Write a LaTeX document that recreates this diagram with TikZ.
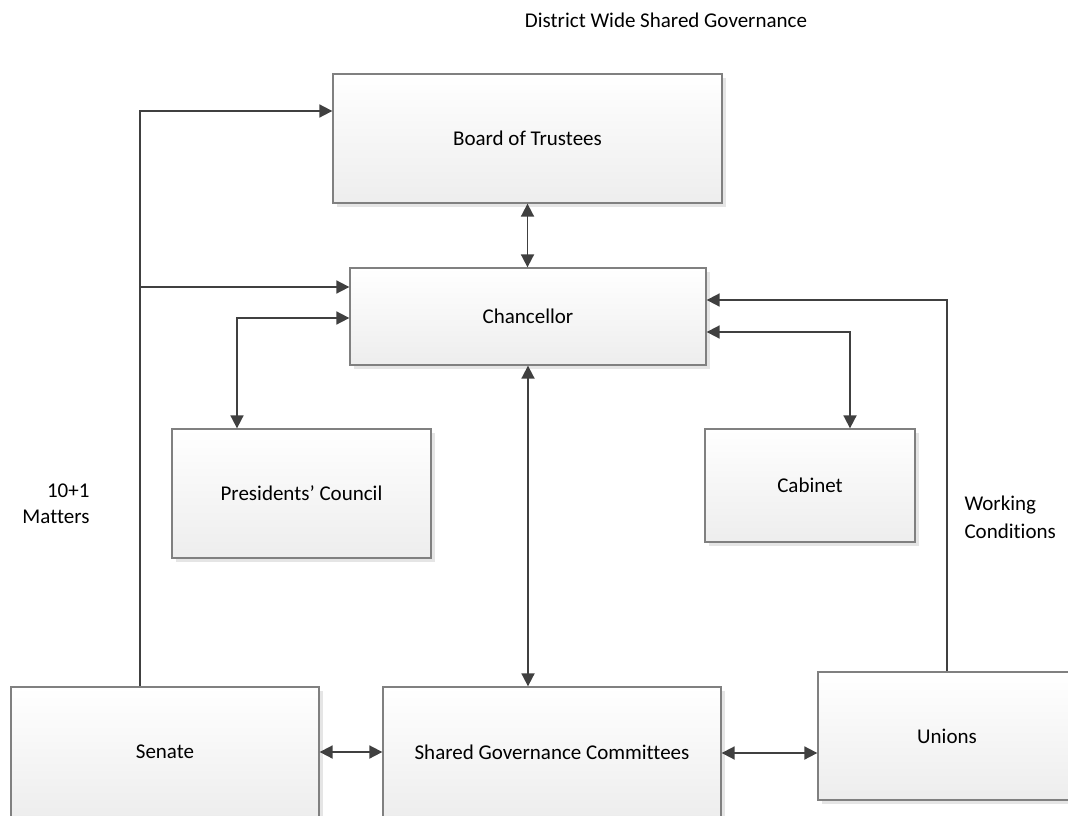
\documentclass[tikz,border=0pt]{standalone}
\usepackage{fontspec}
\setmainfont[Ligatures=NoCommon]{Carlito}
\usepackage{tikz}
\usetikzlibrary{positioning, arrows.meta, shadows, calc}

\begin{document}
\begin{tikzpicture}[x=1pt, y=-1pt,
    font=\fontsize{21}{27}\selectfont,
    govbox/.style={draw=black!50, line width=1.3pt, top color=white, bottom color=black!7,
      drop shadow={shadow xshift=4pt, shadow yshift=-4pt, fill=black!10, opacity=1},
      inner sep=0pt, align=center},
    link/.style={draw=black!75, line width=1.8pt},
    tip/.style={link, -{Triangle[length=13pt, width=13pt]}},
    both/.style={link, {Triangle[length=13pt, width=13pt]}-{Triangle[length=13pt, width=13pt]}}]
        % Page frame in pixel units
        \useasboundingbox (0,0) rectangle (1068,816);
        % Title
        \node (title) at (666,20) {District Wide Shared Governance};
        % Boxes (centres and sizes)
        \node[govbox, minimum width=389pt, minimum height=129pt] (board) at (527.5,138.5) {Board of Trustees};
        \node[govbox, minimum width=356pt, minimum height=97pt] (chancellor) at (528,316.5) {Chancellor};
        \node[govbox, minimum width=259pt, minimum height=129pt] (pcouncil) at (301.5,493.5) {Presidents’ Council};
        \node[govbox, minimum width=210pt, minimum height=113pt] (cabinet) at (810,485.5) {Cabinet};
        \node[govbox, minimum width=308pt, minimum height=130pt] (senate) at (165,752) {Senate};
        \node[govbox, minimum width=338pt, minimum height=130pt] (sgc) at (552,752) {Shared Governance Committees};
        \node[govbox, minimum width=258pt, minimum height=128pt] (unions) at (947,736) {Unions};
        % Side labels
        \node[anchor=east, align=right] (tenone) at (93,491) {10+1};
        \node[anchor=east, align=right] (matters) at (93,517) {Matters};
        \node[anchor=west, align=left] (working) at (961,505) {Working};
        \node[anchor=west, align=left] (conditions) at (961,531) {Conditions};
        % Bend points
        \coordinate (sb) at (140,111);
        \coordinate (sc) at (140,287);
        \coordinate (pc) at (237,318);
        \coordinate (cb) at (850,332);
        \coordinate (un) at (947,300);
        % Senate: 10+1 matters up to board and chancellor
        \draw[tip] (senate.north -| sb) -- (sb) -- (sb -| board.west);
        \draw[tip] (sc) -- (sc -| chancellor.west);
        % Chancellor links
        \draw[both] (board.south) -- (board.south |- chancellor.north);
        \draw[both] (pc -| chancellor.west) -- (pc) -- (pc |- pcouncil.north);
        \draw[both] (cb -| chancellor.east) -- (cb) -- (cb |- cabinet.north);
        \draw[both] (chancellor.south) -- (chancellor.south |- sgc.north);
        % Unions: working conditions
        \draw[tip] (unions.north) -- (un) -- (un -| chancellor.east);
        % Bottom row
        \draw[both] (senate.east) -- (sgc.west);
        \draw[both] (sgc.east |- 0,753) -- (unions.west |- 0,753);
\end{tikzpicture}
\end{document}
